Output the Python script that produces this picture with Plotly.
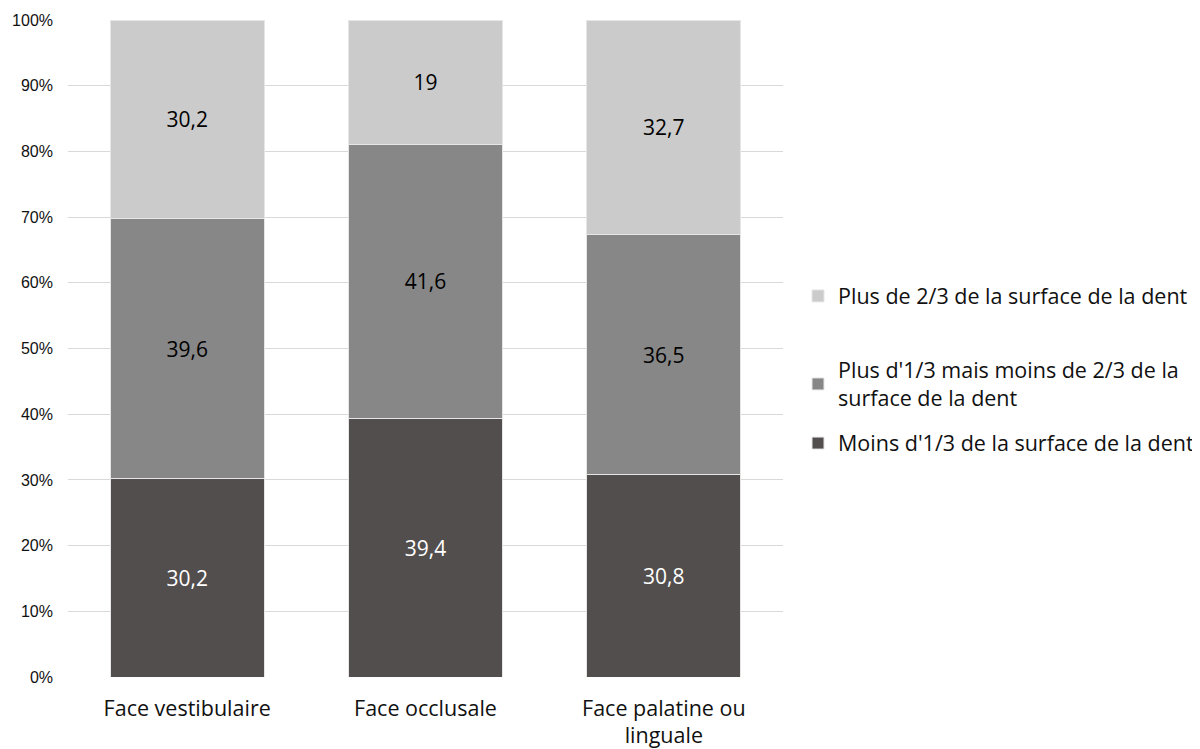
import plotly.graph_objects as go

categories = ["Face vestibulaire", "Face occlusale", "Face palatine ou<br>linguale"]
series_names = [
    "Moins d'1/3 de la surface de la dent",
    "Plus d'1/3 mais moins de 2/3 de la<br>surface de la dent",
    "Plus de 2/3 de la surface de la dent",
]
moins_1_3 = [30.2, 39.4, 30.8]
entre_1_3_2_3 = [39.6, 41.6, 36.5]
plus_2_3 = [30.2, 19, 32.7]
tick_vals = [0, 10, 20, 30, 40, 50, 60, 70, 80, 90, 100]
tick_text = [f"{v}%" for v in tick_vals]

colors = ["#524e4e", "#878787", "#cbcbcb"]
text_colors = ["white", "black", "black"]
legend_ids = ["legend3", "legend2", "legend"]

def fmt(v):
    return ("%g" % v).replace(".", ",")

FONT = "'Open Sans', sans-serif"
TICKFONT = "'Liberation Sans', Arial, sans-serif"

fig = go.Figure()
for name, vals, c, tc, lg in zip(series_names, [moins_1_3, entre_1_3_2_3, plus_2_3],
                                  colors, text_colors, legend_ids):
    fig.add_trace(go.Bar(
        x=categories, y=vals, name=name, legend=lg, showlegend=True,
        marker=dict(color=c, line=dict(color="#e6e6e6", width=1)),
        text=[fmt(v) for v in vals], textposition="inside", insidetextanchor="middle",
        textfont=dict(color=tc, size=21, family=FONT),
        hoverinfo="skip",
    ))

legend_common = dict(
    x=1.021, xanchor="left", yanchor="middle",
    font=dict(size=21.5, family=FONT, color="#111111"),
    bgcolor="rgba(0,0,0,0)",
)

fig.update_layout(
    barmode="stack",
    bargap=0.355,
    width=1200, height=749,
    margin=dict(l=60, r=425, t=12, b=80, autoexpand=False),
    plot_bgcolor="white", paper_bgcolor="white",
    font=dict(family=FONT, color="#111111"),
    uniformtext=dict(mode=False),
    showlegend=True,
    legend=dict(y=0.580, **legend_common),
    legend2=dict(y=0.446, **legend_common),
    legend3=dict(y=0.356, **legend_common),
    xaxis=dict(
        showgrid=False, showline=False, ticks="", automargin=False,
        tickfont=dict(size=21.5, family=FONT, color="#111111"),
        ticklabelstandoff=16,
    ),
    yaxis=dict(
        range=[0, 100], tickmode="array", tickvals=tick_vals, ticktext=tick_text,
        showgrid=True, gridcolor="#d9d9d9", gridwidth=1, automargin=False,
        zeroline=False, showline=False, ticks="",
        tickfont=dict(size=16, family=TICKFONT, color="#111111"),
        ticklabelstandoff=14,
    ),
)

fig.write_html("out.html")
